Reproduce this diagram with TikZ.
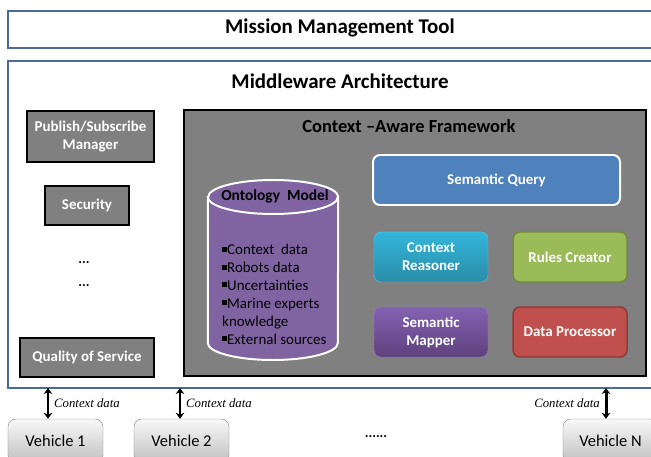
\documentclass[tikz,border=0pt]{standalone}
\usepackage{fontspec}
\setmainfont{Carlito}
\newfontfamily\tnr{Liberation Serif}
\usetikzlibrary{arrows.meta}
\definecolor{frameblue}{HTML}{4A6A9A}
\definecolor{boxgray}{HTML}{808080}
\definecolor{qblue}{HTML}{4F81BD}
\definecolor{purp}{HTML}{8064A2}
\definecolor{cyantop}{HTML}{33B6DA}
\definecolor{cyanbot}{HTML}{2A8CA8}
\definecolor{purptop}{HTML}{8462B2}
\definecolor{purpbot}{HTML}{5E417E}
\definecolor{grn}{HTML}{9BBB59}
\definecolor{grnb}{HTML}{728A40}
\definecolor{rd}{HTML}{C0504D}
\definecolor{rdb}{HTML}{8E3A38}
\newcommand{\bsq}{\rule[3bp]{5bp}{5bp}}
\tikzset{
  outer/.style={draw=frameblue, line width=2pt, fill=white},
  graybox/.style={draw=black, line width=1.5pt, fill=boxgray, text=white, font=\fontsize{15}{18}\selectfont\bfseries, align=center, inner sep=0pt},
  comp/.style={rounded corners=7pt, text=white, font=\fontsize{15}{18}\selectfont\bfseries, align=center, inner sep=0pt, minimum width=114bp, minimum height=50bp},
  veh/.style={draw=gray, rounded corners=8pt, top color=white!95!gray, bottom color=black!25, font=\fontsize{16.5}{18}\selectfont, inner sep=0pt, minimum width=95bp, minimum height=44bp},
  arr/.style={line width=3pt, {Stealth[length=6bp,width=8.5bp]}-{Stealth[length=6bp,width=8.5bp]}},
  lab/.style={font=\tnr\itshape\fontsize{12.8}{14}\selectfont, inner sep=0pt, anchor=west}
}
\begin{document}
\begin{tikzpicture}[x=1bp,y=-1bp]
\useasboundingbox (0,0) rectangle (651,457);
% outer frames
\node[outer, minimum width=660bp, minimum height=37bp, anchor=north west] (mmt) at (7,10) {};
\node[font=\fontsize{21}{23}\selectfont\bfseries] (mmtl) at (340,28) {Mission Management Tool};
\node[outer, minimum width=680bp, minimum height=327bp, anchor=north west] (mw) at (7,60) {};
\node[font=\fontsize{21}{23}\selectfont\bfseries] (mwl) at (340,81) {Middleware Architecture};
% left column
\node[graybox, minimum width=127bp, minimum height=51bp] (ps) at (90.5,136.5) {Publish/Subscribe\\Manager};
\node[graybox, minimum width=84bp, minimum height=39bp] (sec) at (87,205.5) {Security};
\node[font=\fontsize{14}{15}\selectfont\bfseries] (d1) at (84,263) {...};
\node[font=\fontsize{14}{15}\selectfont\bfseries] (d2) at (84,286) {...};
\node[graybox, minimum width=134bp, minimum height=39bp] (qos) at (87,357.5) {Quality of Service};
% context aware framework
\node[draw=black, line width=2pt, fill=boxgray, minimum width=462bp, minimum height=266bp] (caf) at (415,243) {};
\node[font=\fontsize{18.5}{20}\selectfont\bfseries] (cafl) at (409,126) {Context {\textendash}Aware Framework};
% cylinder
\node[minimum width=130bp, minimum height=180bp, inner sep=0pt] (onto) at (273,270) {};
\draw[draw=white, line width=2pt, fill=purp]
  (onto.west |- 0,197) -- (onto.west |- 0,343)
  arc[start angle=180, end angle=360, x radius=65bp, y radius=17bp]
  -- (onto.east |- 0,197)
  arc[start angle=0, end angle=180, x radius=65bp, y radius=17bp] -- cycle;
\draw[draw=white, line width=2pt] (onto.west |- 0,197)
  arc[start angle=180, end angle=360, x radius=65bp, y radius=17bp];
\node[font=\fontsize{15.5}{17}\selectfont\bfseries] (ontol) at (275,196) {Ontology\ \ Model};
\node[font=\fontsize{15}{18}\selectfont, align=left, anchor=north west, inner sep=0pt] (ontot) at (222,244) {%
\bsq Context\ \ data\\
\bsq Robots data\\
\bsq Uncertainties\\
\bsq Marine experts\\
knowledge\\
\bsq External sources};
% components
\node[comp, draw=white, line width=2pt, fill=qblue, minimum width=247bp] (sq) at (496.5,180) {Semantic Query};
\node[comp, draw=cyantop!80!white, top color=cyantop, bottom color=cyanbot] (cr) at (431,257) {Context\\Reasoner};
\node[comp, draw=grnb, line width=1.5pt, fill=grn] (rc) at (570,257) {Rules Creator};
\node[comp, draw=purptop!80!white, top color=purptop, bottom color=purpbot] (sm) at (431,332) {Semantic\\Mapper};
\node[comp, draw=rdb, line width=1.5pt, fill=rd] (dp) at (570,332) {Data Processor};
% vehicles
\node[veh] (v1) at (55.5,441) {Vehicle 1};
\node[veh] (v2) at (181.5,441) {Vehicle 2};
\node[veh] (vn) at (610.5,441) {Vehicle N};
\node[font=\fontsize{14}{15}\selectfont\bfseries] (vdots) at (376,437) {......};
% arrows
\coordinate (a1) at (48,388);
\coordinate (a2) at (180,388);
\coordinate (a3) at (606,388);
\draw[arr] (a1) -- (a1 |- v1.north);
\draw[arr] (a2) -- (a2 |- v2.north);
\draw[arr] (a3) -- (a3 |- vn.north);
\node[lab] (l1) at (54,403) {Context data};
\node[lab] (l2) at (186,403) {Context data};
\node[lab, anchor=east] (l3) at (600,403) {Context data};
\end{tikzpicture}
\end{document}
